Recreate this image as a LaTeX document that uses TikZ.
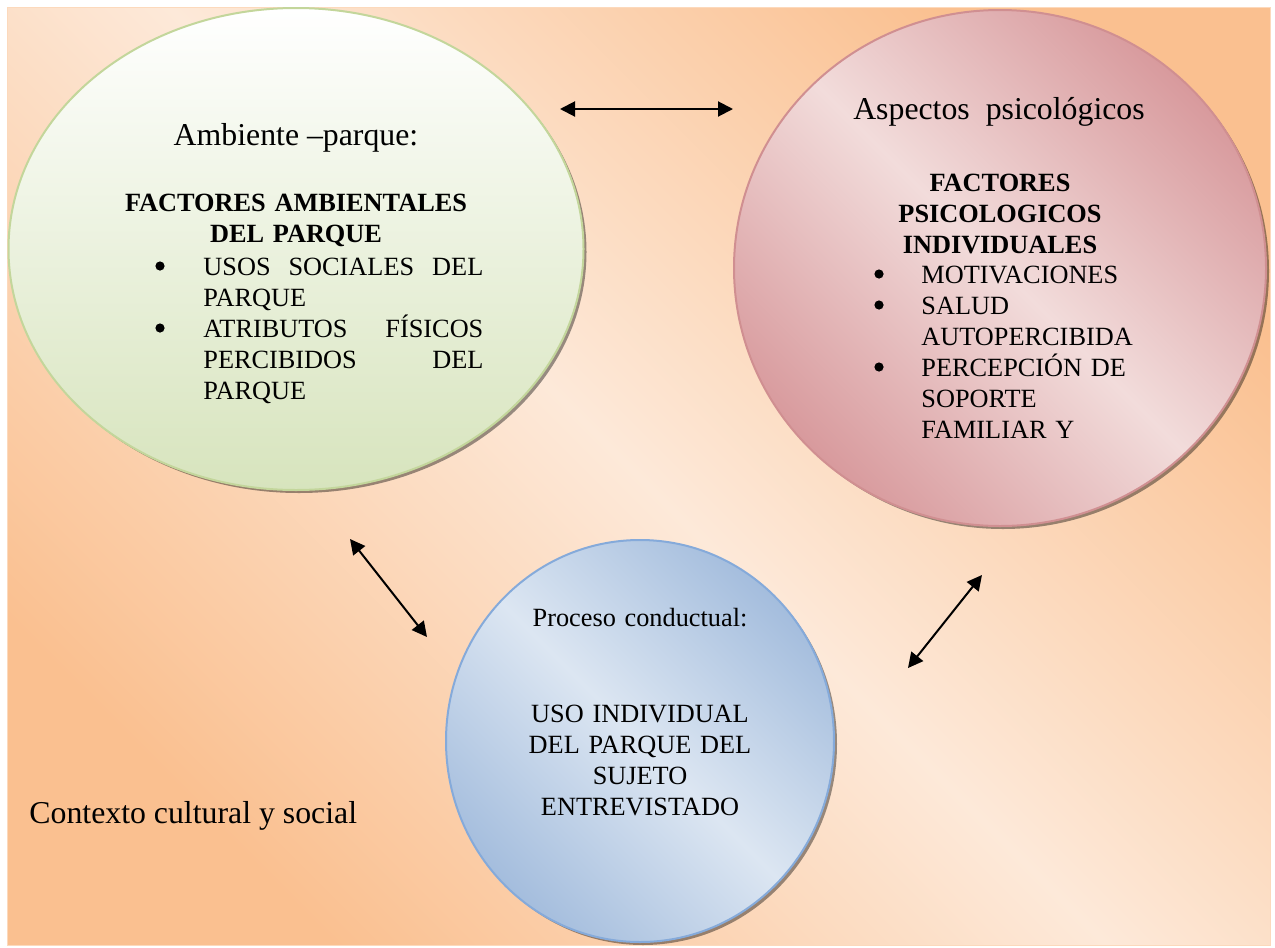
\documentclass[tikz,border=0pt]{standalone}
\usepackage{fontspec}
\setmainfont{Liberation Serif}
\usetikzlibrary{shapes.geometric,shadows,arrows.meta}

\definecolor{naranja}{HTML}{FAC090}
\definecolor{durazno}{HTML}{FDE9D9}
\definecolor{verdeC}{HTML}{D7E4BD}
\definecolor{verdeB}{HTML}{C3D69B}
\definecolor{rosaO}{HTML}{D89A9D}
\definecolor{rosaC}{HTML}{F2DCDB}
\definecolor{rosaB}{HTML}{D08F91}
\definecolor{azulO}{HTML}{A4BDDD}
\definecolor{azulC}{HTML}{DCE6F2}
\definecolor{azulB}{HTML}{85AADA}

\pgfdeclarehorizontalshading{fondoS}{100bp}{color(0bp)=(naranja); color(25bp)=(naranja); color(50bp)=(durazno); color(75bp)=(naranja); color(100bp)=(naranja)}
\pgfdeclarehorizontalshading{rosaS}{100bp}{color(0bp)=(rosaO); color(25bp)=(rosaO); color(50bp)=(rosaC); color(75bp)=(rosaO); color(100bp)=(rosaO)}
\pgfdeclarehorizontalshading{azulS}{100bp}{color(0bp)=(azulO); color(25bp)=(azulO); color(50bp)=(azulC); color(75bp)=(azulO); color(100bp)=(azulO)}

\newcommand{\letragrande}{\fontsize{15.9pt}{19pt}\selectfont}
\newcommand{\letrachica}{\fontsize{13.15pt}{15.5pt}\selectfont\tolerance=10000\hyphenpenalty=10000}

\begin{document}
\begin{tikzpicture}[x=0.5pt,y=-0.5pt,
	elipse/.style={ellipse, inner sep=0pt, line width=1pt, shade, shading angle=45,
		drop shadow={shadow xshift=1.5pt, shadow yshift=-1.5pt, fill=black, opacity=0.4}},
	grande/.style={font=\letragrande, inner sep=0pt, anchor=base},
	chico/.style={font=\letrachica, inner sep=0pt, anchor=base, align=center, text width=130pt},
	negrita/.style={chico, font=\letrachica\bfseries, text width=180pt},
	lista/.style={font=\letrachica, inner sep=0pt, anchor=base west, align=left, text width=110pt},
	bala/.style={circle, fill=black, inner sep=0pt, minimum size=4.6pt},
	flecha/.style={{Triangle[length=7.5pt,width=7.5pt]}-{Triangle[length=7.5pt,width=7.5pt]}, line width=1pt}]
	\fill[white] (0,0) rectangle (1275,948);
	\useasboundingbox (0,0) rectangle (1275,948);
	\shade[shading=fondoS, shading angle=45, draw=naranja!60] (7,7) rectangle (1270,945);

	\node[elipse, draw=verdeB, top color=white, bottom color=verdeC, shading angle=0,
		minimum width=287.5pt, minimum height=241pt] (ambienteE) at (296,249) {};
	\node[elipse, draw=rosaB, shading=rosaS, minimum width=266pt, minimum height=258pt] (psicoE) at (1000,268) {};
	\node[elipse, draw=azulB, shading=azulS, minimum width=194pt, minimum height=201pt] (procesoE) at (640,741) {};

	\node[grande] (ambienteT) at (296,145) {Ambiente –parque:};
	\node[negrita] (factA) at (296,211) {FACTORES AMBIENTALES\\DEL PARQUE};
	\node[lista, align=justify, text width=140pt] (usos) at (203,275) {USOS SOCIALES DEL\linebreak PARQUE};
	\node[lista, align=justify, text width=140pt] (atributos) at (203,337) {ATRIBUTOS FÍSICOS\linebreak PERCIBIDOS DEL\linebreak PARQUE};
	\node[bala] (b1) at (160,266) {};
	\node[bala] (b2) at (160,328) {};

	\node[grande] (psicoT) at (999,119) {Aspectos~~psicológicos};
	\node[negrita, text width=110pt] (factP) at (1000,191) {FACTORES\\PSICOLOGICOS\\INDIVIDUALES};
	\node[lista] (motiv) at (921,283) {MOTIVACIONES};
	\node[lista] (salud) at (921,314) {SALUD\\AUTOPERCIBIDA};
	\node[lista] (soporte) at (921,376) {PERCEPCIÓN DE\\SOPORTE\\FAMILIAR Y};
	\node[bala] (b3) at (879,274) {};
	\node[bala] (b4) at (879,305) {};
	\node[bala] (b5) at (879,367) {};

	\node[chico] (procesoT) at (640,626) {Proceso conductual:};
	\node[chico] (usoT) at (640,722) {USO INDIVIDUAL\\DEL PARQUE DEL\\SUJETO\\ENTREVISTADO};

	\node[grande, anchor=base west] (contexto) at (29,823) {Contexto cultural y social};

	\coordinate (ambienteD) at (560,109);
	\coordinate (psicoI) at (733,109);
	\coordinate (ambienteB) at (350,539);
	\coordinate (procesoI) at (427,637);
	\coordinate (procesoD) at (908,668);
	\coordinate (psicoB) at (982,575);
	\draw[flecha] (ambienteD) -- (psicoI);
	\draw[flecha] (ambienteB) -- (procesoI);
	\draw[flecha] (procesoD) -- (psicoB);
\end{tikzpicture}
\end{document}
